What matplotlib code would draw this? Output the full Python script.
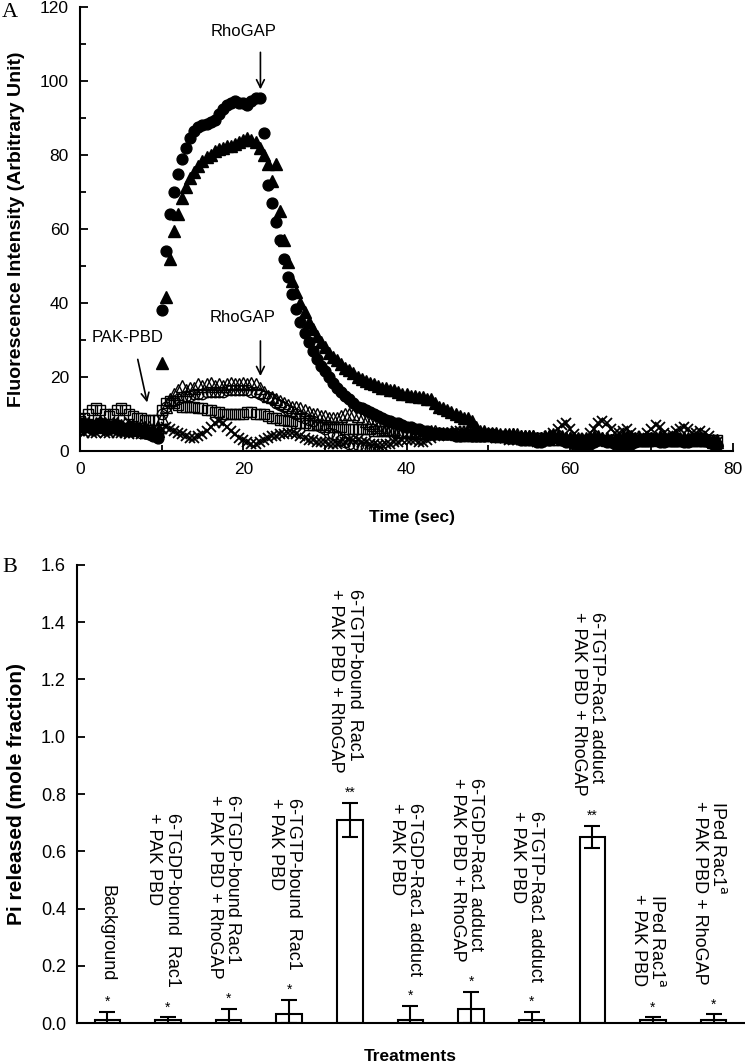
import numpy as np
import matplotlib
matplotlib.use('Agg')
import matplotlib.pyplot as plt
from matplotlib.ticker import MultipleLocator

plt.rcParams['font.family'] = ['Liberation Sans', 'DejaVu Sans']

# ---- panel A: fluorescence traces, sampled every 0.5 s from 0 to 78 s ----
time_s = np.arange(0, 78.5, 0.5)

filled_circles = [
    7.5, 7, 7, 6.5, 7, 7.5, 7, 6.5, 6.5, 7,
    6.5, 6, 6.5, 6, 6, 5.5, 5, 4.5, 4, 3.5,
    38, 54, 64, 70, 75, 79, 82, 84.5, 86.5, 87.5,
    88, 88.5, 89, 89.5, 91, 92.5, 93.5, 94, 94.5, 94,
    94, 93.5, 94.5, 95.5, 95.5, 86, 72, 67, 62, 57,
    52, 47, 42.5, 38.5, 35, 32, 29.5, 27, 25, 23,
    21.5, 20, 18.5, 17, 16, 15, 14, 13, 12, 11.5,
    11, 10.5, 10, 9.5, 9, 8.5, 8, 7.5, 7.5, 7,
    6.5, 6.5, 6, 6, 5.5, 5.5, 5, 5, 5, 4.5,
    4.5, 4.5, 4, 4, 4.5, 4.5, 4, 4, 4, 4,
    4.5, 4.5, 4, 4, 4, 3.5, 3.5, 3.5, 3, 3,
    3, 3, 2.5, 2.5, 3, 3, 3.5, 3.5, 3, 2.5,
    2.5, 2, 2, 1.5, 1.5, 2, 2.5, 3, 3, 2.5,
    2.5, 2, 2, 1.5, 1.5, 2, 2.5, 3, 3, 3.5,
    3.5, 3, 2.5, 2.5, 3, 3.5, 3.5, 3, 2.5, 2.5,
    3, 3.5, 3.5, 3, 2.5, 2, 1.5,
]

filled_triangles = [
    7, 7.5, 7, 7, 6.5, 7, 7, 6.5, 7, 6.5,
    6.5, 6, 6.5, 6.5, 6, 6, 6, 5.5, 5.5, 5.5,
    23.8, 41.6, 52, 59.5, 64, 68.4, 71.4, 73.8, 75.5, 77,
    78.5, 79.5, 80, 81, 81.5, 82, 82.5, 82.5, 83, 83.5,
    84, 84.5, 84, 83.5, 82, 80, 77.5, 73, 77.5, 65,
    57, 51, 46, 43, 40, 37.5, 35, 33, 31, 29.5,
    28, 26.5, 25.5, 24.5, 23.5, 22.5, 22, 21, 20, 19.5,
    19, 18.5, 18, 17.5, 17, 17, 16.5, 16.5, 16, 15.5,
    15.5, 15, 15, 14.5, 14.5, 14, 14, 13, 12, 11.5,
    11, 10.5, 10, 9.5, 9, 9, 8, 6.5, 5.5, 5.5,
    5, 5, 5, 4.5, 4.5, 4.5, 4.5, 4, 4, 4,
    4, 4, 3.5, 3.5, 4, 4, 4.5, 4, 4, 3.5,
    3.5, 3.5, 3, 3, 3.5, 3.5, 4, 4, 3.5, 3.5,
    3, 3, 3.5, 3.5, 4, 4, 3.5, 3.5, 3, 3,
    3.5, 3.5, 4, 4, 3.5, 3, 3, 3.5, 3.5, 3,
    3, 3.5, 3.5, 3, 3, 2.5, 2.5,
]

open_triangles = [
    7.5, 8, 7.5, 7, 7.5, 8, 7.5, 7, 7.5, 7.5,
    7, 7.5, 7, 7, 6.5, 7, 6.5, 6.5, 6, 6.5,
    9, 12, 14, 15.5, 16.5, 17.5, 16.5, 17, 17, 18,
    17.5, 18, 18.5, 17.5, 18, 17.5, 18, 18.5, 18, 18,
    18.5, 18, 18.5, 18, 17, 16, 15, 14.5, 14, 13.5,
    13, 12.5, 12, 12, 11.5, 11, 10.5, 10, 10, 9.5,
    9.5, 9, 9, 9, 9.5, 10, 10, 10, 9.5, 9,
    8, 7.5, 7, 6.5, 6.5, 6, 6, 6, 5.5, 5.5,
    5.5, 5.5, 5, 5, 5, 5, 5.5, 5.5, 5, 5,
    5, 5, 4.5, 4.5, 4.5, 4.5, 5, 5, 4.5, 4.5,
    4.5, 4.5, 4, 4, 4, 4, 4.5, 4.5, 4, 4,
    4, 4, 3.5, 3.5, 3.5, 4, 4, 4, 3.5, 3.5,
    3.5, 3.5, 3.5, 3, 3, 3, 3.5, 3.5, 3.5, 3,
    3, 3, 3, 3.5, 3.5, 3.5, 3, 3, 3, 3,
    3, 3.5, 3.5, 3.5, 3, 3, 3, 3, 3.5, 3.5,
    3.5, 3, 3, 3, 3, 3, 3,
]

nan = np.nan
open_circles = [
    6, 6.5, 6.5, 6, 6.5, 6.5, 6, 6, 6.5, 6,
    6, 6, 5.5, 5.5, 5.5, 5, 5, 4.5, 4.5, 4.5,
    10, 12, 13, 13.5, 14, 14.5, 15, 15, 15.5, 15.5,
    15.5, 16, 16, 16, 16, 16, 16.5, 16.5, 16.5, 16.5,
    16.5, 16.5, 16, 16, 15.5, 15, 14.5, 14, 13, 12.5,
    12, 11, 10.5, 10, 9.5, 9, 8.5, 8, 7, 6.5,
    6, 5, 4.5, 4, 3, 2.5, 2, 1.5, 1.5, 1,
    1, 0.5, 0.5, 0, nan, nan, nan, nan, nan, nan,
] + [nan] * 77

open_squares = [
    8, 9, 10, 11, 11.5, 11, 10, 9.5, 10, 11,
    11.5, 11, 10, 9.5, 9, 9, 8.5, 8.5, 8.5, 8.5,
    11, 13, 13.5, 13, 12.5, 12, 12, 12, 12, 11.5,
    11.5, 11, 11, 10.5, 10.5, 10, 10, 10, 10, 10,
    10, 10.5, 10.5, 10, 10, 10, 9.5, 9, 9, 8.5,
    8.5, 8, 8, 7.5, 7.5, 7.5, 7, 7, 7, 7,
    7, 6.5, 6.5, 6.5, 6.5, 6, 6, 6, 6, 6,
    6, 6, 5.5, 5.5, 5.5, 5.5, 5.5, 5.5, 5, 5,
    5, 5, 5, 5, 5, 4.5, 4.5, 4.5, 4.5, 4.5,
    4.5, 4.5, 4.5, 4, 4, 4, 4, 4, 4, 4,
    4, 4, 4, 4, 4, 3.5, 3.5, 3.5, 3.5, 3.5,
    3.5, 3.5, 3.5, 3.5, 3.5, 3, 3, 3, 3, 3,
    3, 3, 3, 3, 3, 3, 3, 3, 3, 3,
    3, 3, 3, 3, 3, 3, 3, 3, 3, 3,
    3, 3, 3, 3, 3, 3, 3, 3, 3, 3,
    3, 3, 3, 3, 3, 3, 3,
]

crosses = [
    5.5, 5, 5.5, 5, 5, 5.5, 5, 5, 5.5, 5,
    5, 5, 4.5, 5, 5, 4.5, 4.5, 5, 4.5, 4.5,
    6, 6.5, 6, 5.5, 5, 4.5, 4, 3.5, 3.5, 4,
    4.5, 5.5, 6.5, 7.5, 8, 7.5, 6.5, 5.5, 4.5, 3.5,
    3, 2.5, 2, 2, 2.5, 3, 3.5, 4, 4, 4.5,
    4.5, 5, 5, 4.5, 4, 3.5, 3, 3, 2.5, 2.5,
    2.5, 2, 2, 2, 2.5, 2.5, 3, 3, 3, 2.5,
    2.5, 2, 2, 1.5, 1.5, 2, 2, 2.5, 2.5, 3,
    3, 3, 3, 2.5, 2.5, 3, 3.5, 4, 4, 4.5,
    4.5, 5, 5.5, 5.5, 5.5, 5.5, 5, 4.5, 4.5, 4,
    4, 4, 3.5, 3.5, 3.5, 3, 3, 3, 3, 3.5,
    3, 3, 2.5, 2.5, 3, 4, 5, 6, 7, 7.5,
    6, 4.5, 3.5, 3, 3.5, 5, 6, 7.5, 8, 7.5,
    6, 5, 5, 5.5, 6, 5, 4, 3.5, 4, 5,
    6, 7, 6.5, 5, 4, 4.5, 5.5, 6, 6.5, 6,
    5, 5, 5.5, 5, 4, 3, 2.5,
]

# ---- panel B: Pi released ----
treatments = [
    'Background',
    '6-TGDP-bound  Rac1\n+ PAK PBD',
    '6-TGDP-bound Rac1\n+ PAK PBD + RhoGAP',
    '6-TGTP-bound  Rac1\n+ PAK PBD',
    '6-TGTP-bound  Rac1\n+ PAK PBD + RhoGAP',
    '6-TGDP-Rac1 adduct\n+ PAK PBD',
    '6-TGDP-Rac1 adduct\n+ PAK PBD + RhoGAP',
    '6-TGTP-Rac1 adduct\n+ PAK PBD',
    '6-TGTP-Rac1 adduct\n+ PAK PBD + RhoGAP',
    'IPed Rac1$^{\\rm a}$\n+ PAK PBD',
    'IPed Rac1$^{\\rm a}$\n+ PAK PBD + RhoGAP',
]
pi_mean = [0.01, 0.01, 0.01, 0.03, 0.71, 0.01, 0.05, 0.01, 0.65, 0.01, 0.01]
pi_err = [0.03, 0.01, 0.04, 0.05, 0.06, 0.05, 0.06, 0.03, 0.04, 0.01, 0.02]
signif = ['*', '*', '*', '*', '**', '*', '*', '*', '**', '*', '*']

fig = plt.figure(figsize=(7.45, 10.64), dpi=100)

# panel A
ax = fig.add_axes([0.1074, 0.5761, 0.8766, 0.4173])
ax.plot(time_s, crosses, 'x', color='black', ms=7.5, mew=1.3)
ax.plot(time_s, open_squares, 's', mfc='none', mec='black', ms=6.5, mew=1.0)
ax.plot(time_s, open_circles, 'o', mfc='none', mec='black', ms=7.5, mew=1.0)
ax.plot(time_s, open_triangles, '^', mfc='none', mec='black', ms=8.5, mew=1.0)
ax.plot(time_s, filled_triangles, '^', color='black', ms=8.5)
ax.plot(time_s, filled_circles, 'o', color='black', ms=7.8)

ax.set_xlim(0, 80)
ax.set_ylim(0, 120)
ax.xaxis.set_major_locator(MultipleLocator(20))
ax.xaxis.set_minor_locator(MultipleLocator(10))
ax.yaxis.set_major_locator(MultipleLocator(20))
ax.yaxis.set_minor_locator(MultipleLocator(10))
ax.spines['top'].set_visible(False)
ax.spines['right'].set_visible(False)
for s in ('left', 'bottom'):
    ax.spines[s].set_linewidth(1.5)
ax.tick_params(which='both', direction='in', width=1.3, labelsize=12.5, pad=8)
ax.tick_params(which='major', length=6)
ax.tick_params(which='minor', length=4)
ax.set_xlabel('Time (sec)', fontsize=12.5, fontweight='bold')
ax.set_ylabel('Fluorescence Intensity (Arbitrary Unit)', fontsize=14, fontweight='bold')
ax.xaxis.set_label_coords(0.508, -0.133)
ax.yaxis.set_label_coords(-0.084, 0.5)

arrow = dict(arrowstyle='->', color='black', lw=1.2, mutation_scale=14)
ax.text(20, 113.5, 'RhoGAP', ha='center', va='center', fontsize=12)
ax.annotate('', xy=(22.1, 97), xytext=(22.1, 108.5), arrowprops=arrow)
ax.text(19.9, 36.2, 'RhoGAP', ha='center', va='center', fontsize=12)
ax.annotate('', xy=(22.1, 19.5), xytext=(22.1, 30.5), arrowprops=arrow)
ax.text(5.8, 30.8, 'PAK-PBD', ha='center', va='center', fontsize=12)
ax.annotate('', xy=(8.3, 12.4), xytext=(7.0, 25.5), arrowprops=arrow)

fig.text(0.003, 0.997, 'A', family='Liberation Serif', fontsize=16, va='top')

# panel B
bx = fig.add_axes([0.1034, 0.0385, 0.895, 0.4305])
x = np.arange(len(treatments))
lower = np.minimum(pi_err, pi_mean)
bx.bar(x, pi_mean, width=0.42, color='white', edgecolor='black', linewidth=1.5)
bx.errorbar(x, pi_mean, yerr=[lower, pi_err], fmt='none', ecolor='black',
            elinewidth=1.5, capsize=5.5, capthick=1.5)
for i in range(len(treatments)):
    top = pi_mean[i] + pi_err[i]
    bx.text(x[i], top + 0.035, signif[i], ha='center', va='center', fontsize=10)
    dx = -0.08 if '\n' in treatments[i] else 0
    bx.text(x[i] + dx, top + 0.105, treatments[i], rotation=270, ha='center',
            va='bottom', multialignment='left', fontsize=13, linespacing=1.1)

bx.set_xlim(-0.5, 10.5)
bx.set_ylim(0, 1.6)
bx.yaxis.set_major_locator(MultipleLocator(0.2))
bx.yaxis.set_major_formatter(plt.FormatStrFormatter('%.1f'))
bx.set_xticks([])
bx.spines['top'].set_visible(False)
bx.spines['right'].set_visible(False)
for s in ('left', 'bottom'):
    bx.spines[s].set_linewidth(1.5)
bx.tick_params(axis='y', direction='in', length=6, width=1.3, labelsize=13, pad=8)
bx.set_xlabel('Treatments', fontsize=12.5, fontweight='bold')
bx.set_ylabel('Pi released (mole fraction)', fontsize=15, fontweight='bold')
bx.xaxis.set_label_coords(0.5, -0.057)
bx.yaxis.set_label_coords(-0.076, 0.5)

fig.text(0.003, 0.476, 'B', family='Liberation Serif', fontsize=16, va='top')

fig.savefig('out.png', dpi=100)
